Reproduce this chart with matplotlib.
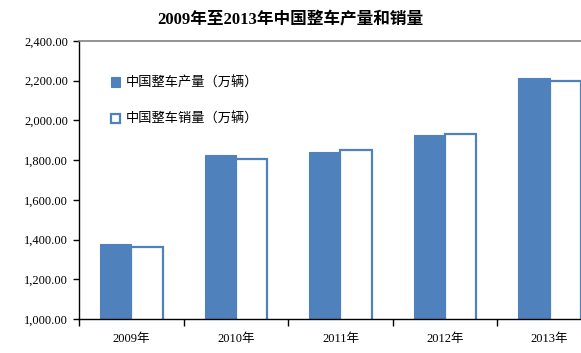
import matplotlib.pyplot as plt
import numpy as np
from matplotlib.ticker import FuncFormatter

years = ['2009年', '2010年', '2011年', '2012年', '2013年']
production = [1379.10, 1826.47, 1841.89, 1927.18, 2211.68]
sales = [1364.48, 1806.19, 1850.51, 1930.64, 2198.41]

serif = ['Liberation Serif', 'Noto Sans CJK SC']
cjk = ['Noto Sans CJK SC', 'DejaVu Sans']
blue = '#4F81BD'

fig = plt.figure(figsize=(5.81, 3.53), dpi=100)
ax = fig.add_axes([79 / 581, 1 - 319 / 353, (581 - 79) / 581, (319 - 41) / 353])

x = np.arange(len(years))
w = 0.3
ax.bar(x - w / 2, production, w, color=blue, edgecolor=blue, linewidth=0.8,
       label='中国整车产量（万辆）')
ax.bar(x + w / 2, sales, w, color='white', edgecolor=blue, linewidth=1.6,
       label='中国整车销量（万辆）')

ax.set_yticks(np.arange(1000, 2401, 200))
ax.yaxis.set_major_formatter(FuncFormatter(lambda v, p: f'{v:,.2f}'))
ax.set_xticks(x)
ax.set_xticklabels(years)
ax.set_xticks(np.arange(-0.5, 4.6, 1), minor=True)
# set limits after the ticks, set_ticks widens the view otherwise
ax.set_ylim(1000, 2400)
ax.set_xlim(-0.5, 4.3)
ax.tick_params(axis='x', which='major', length=0, pad=10)
ax.tick_params(axis='x', which='minor', length=5, direction='out', width=1)
ax.tick_params(axis='y', length=4, direction='out', width=1, pad=4)
for lab in ax.get_xticklabels() + ax.get_yticklabels():
    lab.set_family(serif)
    lab.set_fontsize(9)

ax.spines['right'].set_visible(False)
ax.spines['top'].set_color('#808080')
ax.spines['top'].set_linewidth(1.2)
ax.spines['left'].set_linewidth(1.0)
ax.spines['bottom'].set_linewidth(1.0)

ax.legend(loc='upper left', bbox_to_anchor=(0.04, 0.915), frameon=False,
          prop={'family': cjk, 'size': 9.5}, handlelength=0.7, handleheight=0.7,
          handletextpad=0.4, labelspacing=1.75)

fig.text(290 / 581, 1 - 20 / 353, '2009年至2013年中国整车产量和销量',
         ha='center', va='center', fontsize=12, fontweight='bold', family=serif)

fig.savefig('out.png', dpi=100)
